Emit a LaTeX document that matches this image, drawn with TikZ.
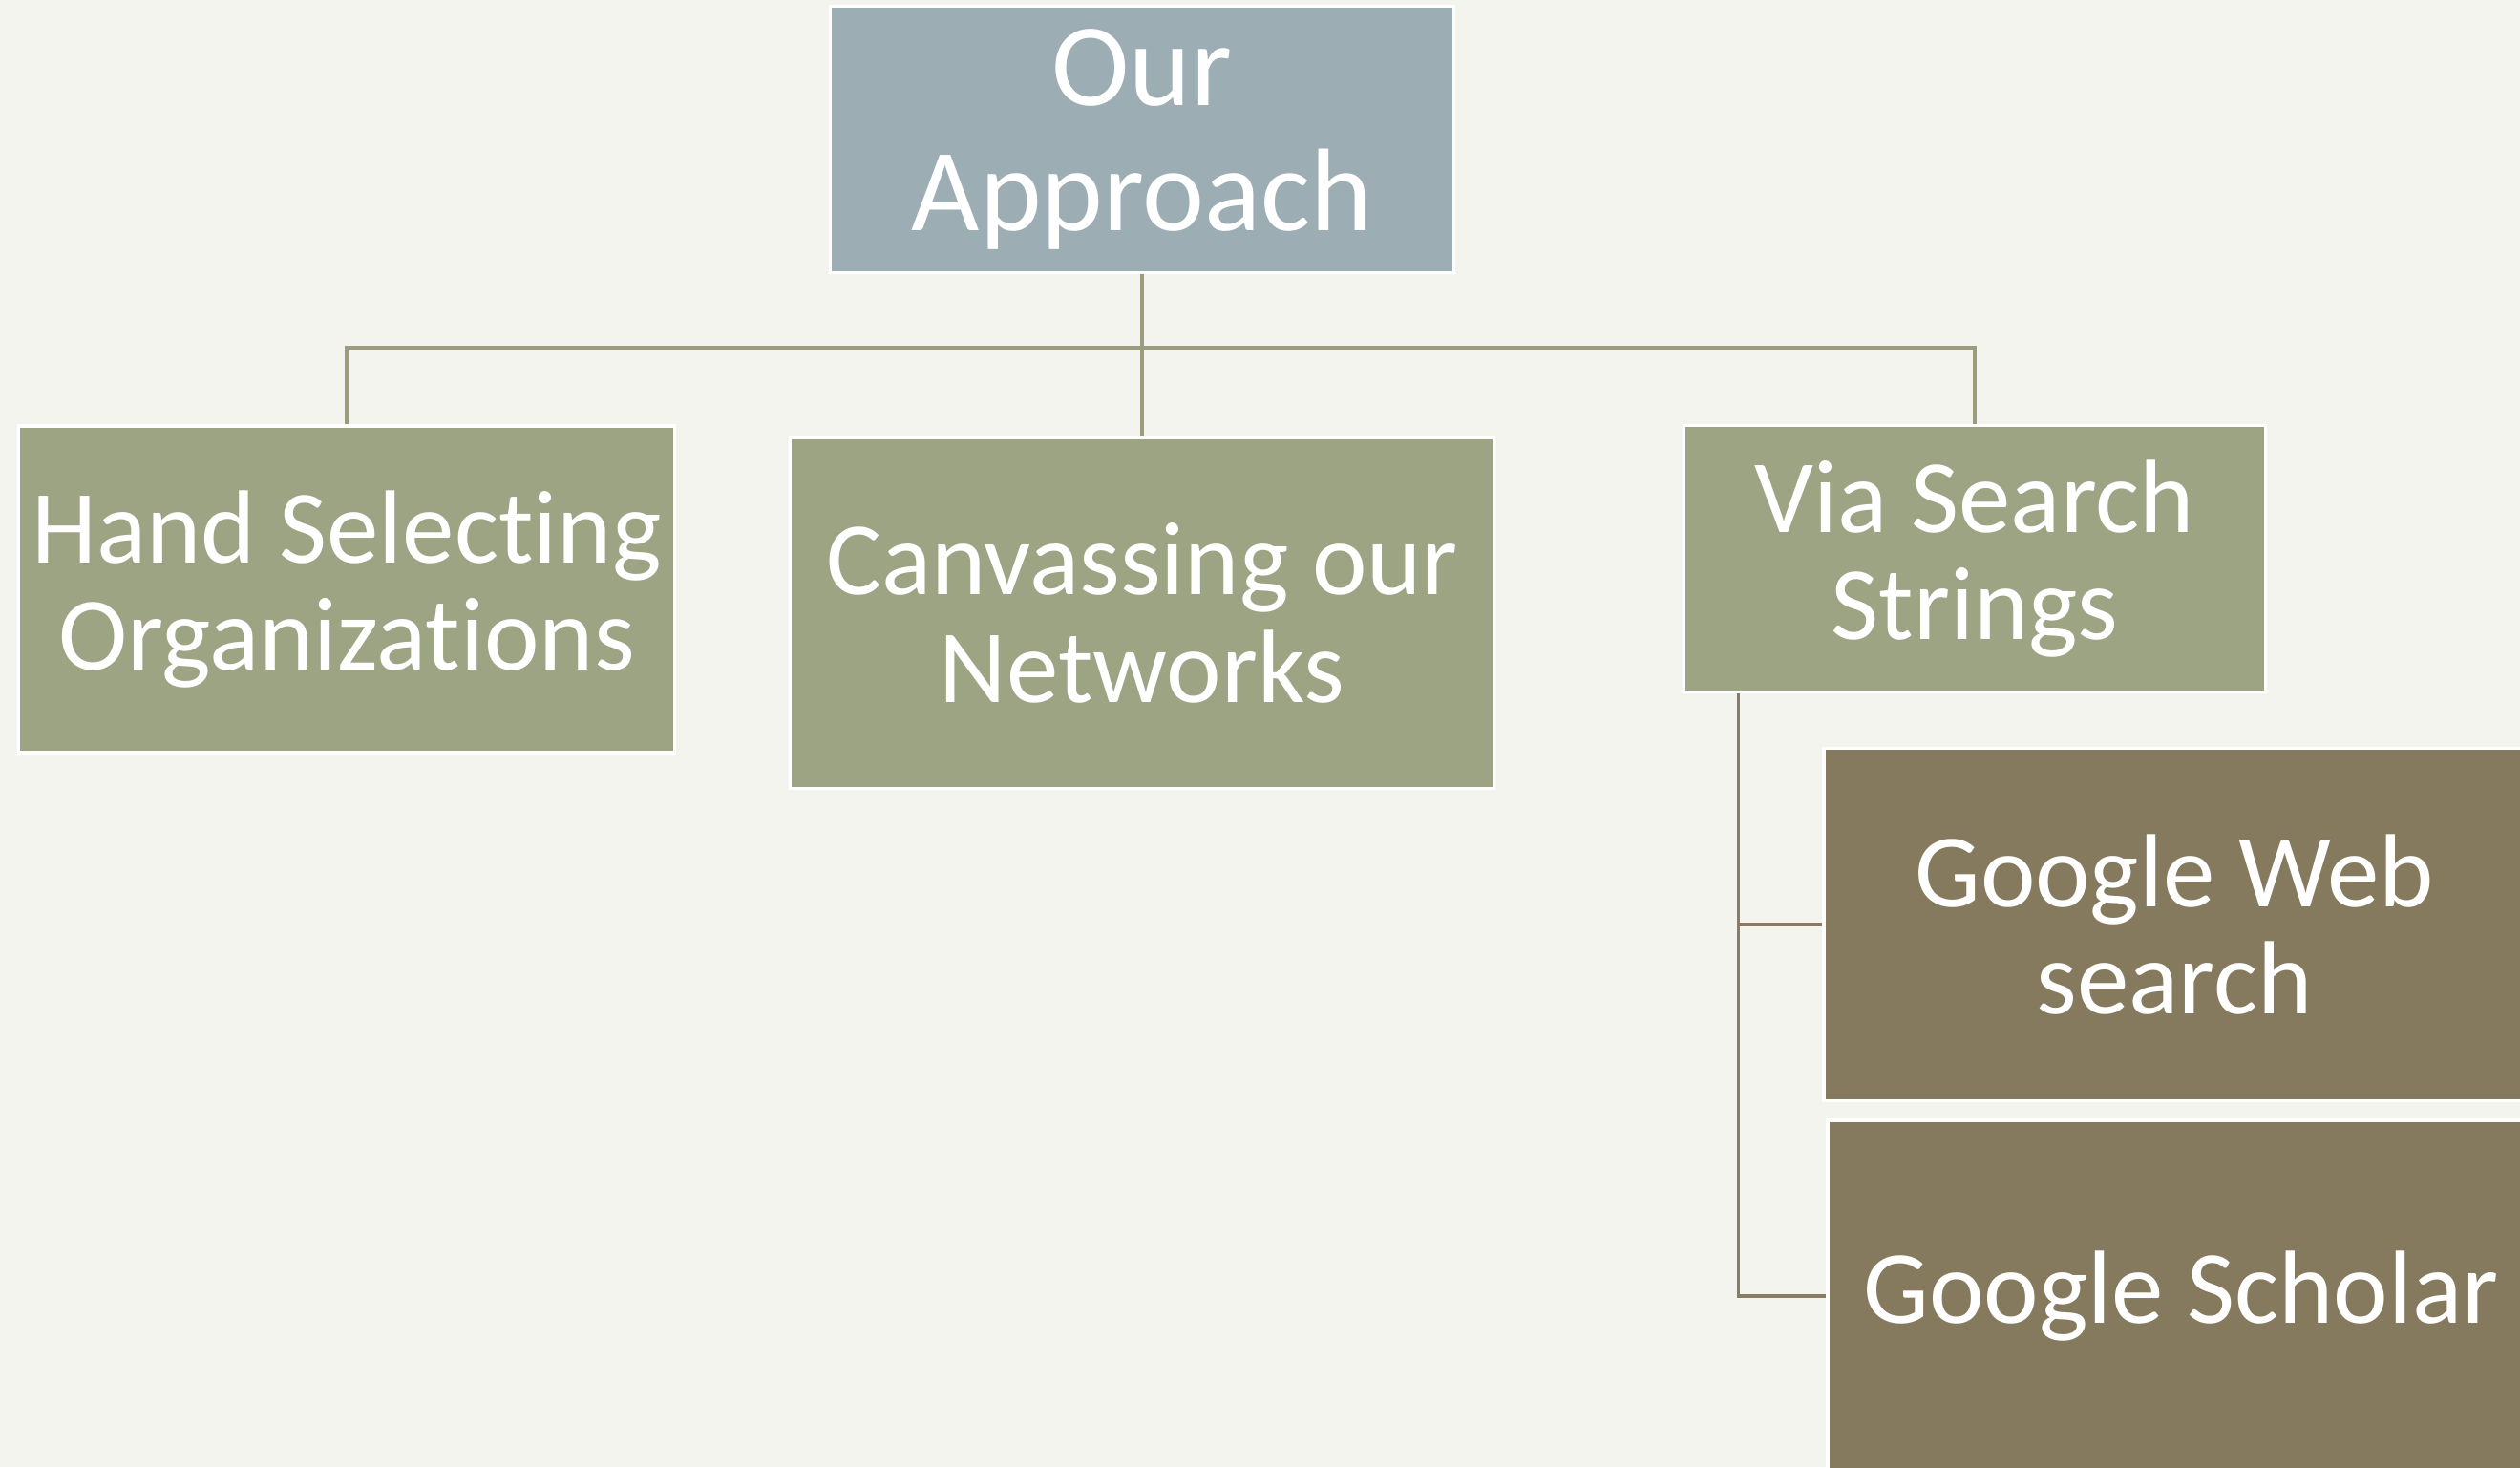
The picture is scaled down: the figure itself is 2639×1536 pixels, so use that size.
\documentclass[tikz,border=0pt]{standalone}
\usepackage{fontspec}
\setmainfont[Ligatures=NoCommon]{Carlito}
\usetikzlibrary{positioning}

\definecolor{paper}{HTML}{F3F4EE}
\definecolor{rootblue}{HTML}{9CAEB4}
\definecolor{levelgreen}{HTML}{9DA484}
\definecolor{leafbrown}{HTML}{867A5E}
\definecolor{linkgreen}{HTML}{9A9C7C}
\definecolor{linkbrown}{HTML}{8A7C62}

\begin{document}
\begin{tikzpicture}[x=0.01cm,y=-0.01cm]
    \tikzstyle{box}=[rectangle,draw=white,line width=1pt,text=white,align=center,inner sep=0pt,font=\fontsize{31}{32}\selectfont]
    \tikzstyle{root box}=[box,fill=rootblue,font=\fontsize{35}{37.5}\selectfont]
    \tikzstyle{level box}=[box,fill=levelgreen]
    \tikzstyle{leaf box}=[box,fill=leafbrown]
    \tikzstyle{link}=[draw=linkgreen,line width=1pt]
    \tikzstyle{sublink}=[draw=linkbrown,line width=1pt]

    \useasboundingbox (0,0) rectangle (2639,1536);
    \fill[paper] (0,0) rectangle (2639,1536);

    \node[root box, minimum width=6.53cm, minimum height=2.79cm] (approach) at (1196, 146) {Our\\Approach};

    \node[level box, minimum width=6.87cm, minimum height=3.42cm] (hand) at (363, 617) {Hand Selecting\\Organizations};
    \node[level box, minimum width=7.37cm, minimum height=3.67cm] (canvass) at (1196, 642) {Canvassing our\\Networks};
    \node[level box, minimum width=6.09cm, minimum height=2.79cm] (search) at (2068, 585) {Via Search\\Strings};

    \node[leaf box, minimum width=7.34cm, minimum height=3.69cm] (web) at (2277, 968) {Google Web\\search};
    \node[leaf box, minimum width=7.40cm, minimum height=3.68cm] (scholar) at (2284, 1357) {Google Scholar};

    % top level
    \coordinate (bus) at (1196, 364);
    \draw[link] (approach) -- (canvass);
    \draw[link] (hand.north) |- (bus) -| (search.north);

    % search strings
    \coordinate (spine) at ([xshift=0.59cm]search.south west);
    \draw[sublink] (spine) |- (web.west);
    \draw[sublink] (spine) |- (scholar.west);
\end{tikzpicture}
\end{document}
